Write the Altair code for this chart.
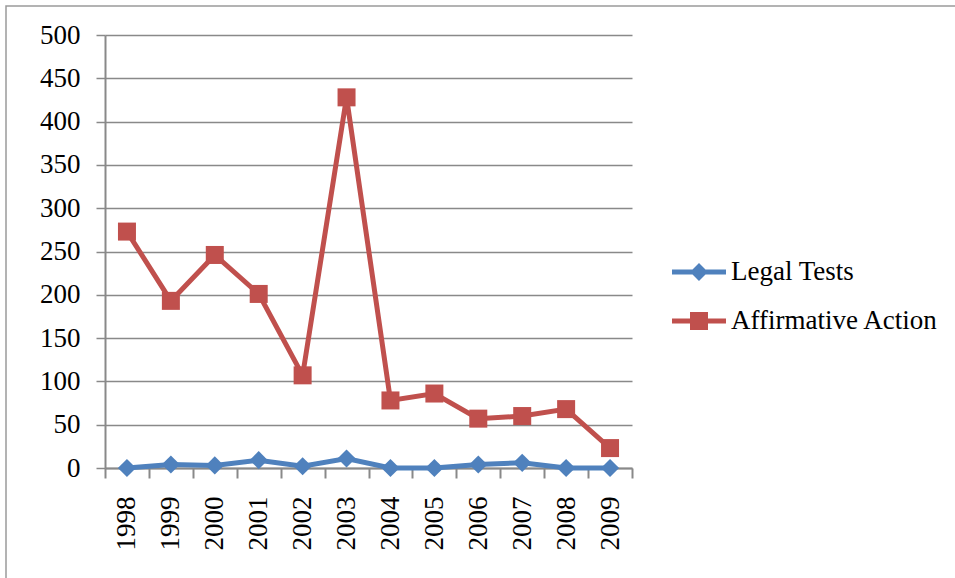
import altair as alt
import pandas as pd

years = ["1998", "1999", "2000", "2001", "2002", "2003",
         "2004", "2005", "2006", "2007", "2008", "2009"]
series_names = ["Legal Tests", "Affirmative Action"]
legal_tests = [0, 4, 3, 9, 2, 11, 0, 0, 4, 6, 0, 0]
affirmative_action = [273, 193, 246, 201, 107, 428, 78, 86, 57, 60, 68, 23]
colors = ["#4F81BD", "#C0504D"]
shapes = ["diamond", "square"]
y_ticks = [0, 50, 100, 150, 200, 250, 300, 350, 400, 450, 500]

rows = []
for name, vals in zip(series_names, [legal_tests, affirmative_action]):
    for yr, v in zip(years, vals):
        rows.append({"year": yr, "series": name, "value": v})
df = pd.DataFrame(rows)

FONT = "Liberation Serif"
GRID = "#898989"

# legend symbols: a line segment with the series marker in its middle
legend_paths = [
    "M-1,-0.09 L-0.24,-0.09 L0,-0.333 L0.24,-0.09 L1,-0.09 L1,0.09 "
    "L0.24,0.09 L0,0.333 L-0.24,0.09 L-1,0.09 Z",
    "M-1,-0.09 L-0.333,-0.09 L-0.333,-0.333 L0.333,-0.333 L0.333,-0.09 "
    "L1,-0.09 L1,0.09 L0.333,0.09 L0.333,0.333 L-0.333,0.333 L-0.333,0.09 "
    "L-1,0.09 Z",
]

x_enc = alt.X(
    "year:O",
    sort=years,
    bandPosition=0.5,
    scale=alt.Scale(type="band", paddingInner=0, paddingOuter=0),
    axis=alt.Axis(
        title=None, tickBand="extent", labelAngle=270, labelAlign="right",
        labelBaseline="middle", tickSize=10, labelPadding=18, grid=False,
        domainColor=GRID, tickColor=GRID, domainWidth=2, tickWidth=2,
    ),
)
y_enc = alt.Y(
    "value:Q",
    scale=alt.Scale(domain=[0, 500], nice=False),
    axis=alt.Axis(
        title=None, values=y_ticks, tickSize=9, labelPadding=16,
        gridColor=GRID, gridWidth=1.5, domainColor=GRID, tickColor=GRID,
        domainWidth=2, tickWidth=1.5,
    ),
)

layers = []
for name, col in zip(series_names, colors):
    base = alt.Chart(df).transform_filter(alt.datum.series == name)
    layers.append(base.mark_line(strokeWidth=5, color=col).encode(x=x_enc, y=y_enc))
for name, col, shp, sz in zip(series_names, colors, shapes, [330, 324]):
    base = alt.Chart(df).transform_filter(alt.datum.series == name)
    layers.append(base.mark_point(filled=True, shape=shp, size=sz, opacity=1,
                                  strokeWidth=0, color=col).encode(x=x_enc, y=y_enc))

leg = alt.Legend(
    title=None, orient="none", legendX=567, legendY=210, padding=0,
    symbolSize=2916, symbolStrokeWidth=0, symbolOpacity=1,
    labelFont=FONT, labelFontSize=27, labelColor="black",
    labelOffset=5, rowPadding=9, labelLimit=400,
)
# legend-only layer (its points have zero size)
legend_layer = alt.Chart(df).mark_point(filled=True, size=0).encode(
    x=x_enc,
    y=y_enc,
    color=alt.Color("series:N", scale=alt.Scale(domain=series_names, range=colors), legend=leg),
    shape=alt.Shape("series:N", scale=alt.Scale(domain=series_names, range=legend_paths), legend=leg),
)

frame = alt.Chart(pd.DataFrame({"a": [0]})).mark_rect(
    fill="transparent", stroke="#9a9a9a", strokeWidth=1.5
).encode(x=alt.value(-99), x2=alt.value(900), y=alt.value(-29), y2=alt.value(620))

chart = alt.layer(frame, legend_layer, *layers).properties(
    width=527, height=433,
    padding={"left": 105, "top": 35, "right": 323, "bottom": 110},
    autosize=alt.AutoSizeParams(type="none"),
    background="white",
).configure_axis(
    labelFont=FONT, labelFontSize=27, labelColor="black",
).configure_view(strokeOpacity=0)

chart.save("out.html", embed_options={"renderer": "svg", "actions": False})
